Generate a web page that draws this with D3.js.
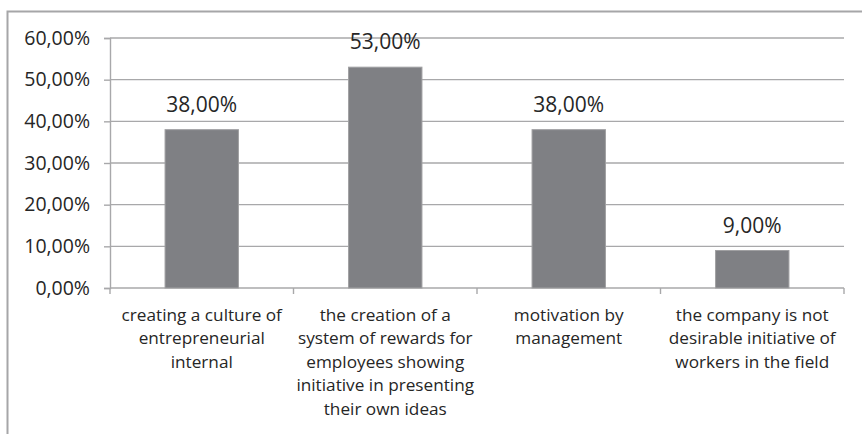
<!DOCTYPE html>
<html>
<head>
<meta charset="utf-8">
<script src="https://cdn.jsdelivr.net/npm/d3@7"></script>
<style>
  body { margin: 0; background: #fff; }
  svg { display: block; font-family: "Open Sans", sans-serif; }
</style>
</head>
<body>
<svg id="chart" width="862" height="434"></svg>
<script>
// chart data
const categories = [
  ["creating a culture of", "entrepreneurial", "internal"],
  ["the creation of a", "system of rewards for", "employees showing", "initiative in presenting", "their own ideas"],
  ["motivation by", "management"],
  ["the company is not", "desirable initiative of", "workers in the field"]
];
const values = [38, 53, 38, 9];
const yTicks = [0, 10, 20, 30, 40, 50, 60];

const fmt = v => d3.format(".2f")(v).replace(".", ",") + "%";

const svg = d3.select("#chart");
const margin = { top: 38, right: 18, bottom: 146, left: 110 };
const width = 862, height = 434;

// outer chart frame (only top and left visible in the crop)
svg.append("path")
   .attr("d", `M7.5,${height} V11.5 H${width}`)
   .attr("fill", "none")
   .attr("stroke", "#a6a6a8")
   .attr("stroke-width", 2);

const idx = d3.range(values.length);

const x = d3.scaleBand()
            .domain(idx)
            .range([margin.left, width - margin.right])
            .padding(0);

const xBar = d3.scaleBand()
               .domain(idx)
               .range([margin.left, width - margin.right])
               .paddingInner(0.6)
               .paddingOuter(0.3);

const y = d3.scaleLinear()
            .domain([0, 60])
            .range([height - margin.bottom, margin.top]);

// gridlines
svg.append("g")
   .selectAll("line")
   .data(yTicks.slice(1))
   .join("line")
   .attr("x1", margin.left)
   .attr("x2", width - margin.right)
   .attr("y1", d => y(d))
   .attr("y2", d => y(d))
   .attr("stroke", "#a8a8aa")
   .attr("stroke-width", 1.4);

// y axis
const yAxis = svg.append("g")
   .attr("transform", `translate(${margin.left},0)`)
   .call(d3.axisLeft(y).tickValues(yTicks).tickFormat(fmt).tickSize(6).tickPadding(14));
yAxis.select(".domain").attr("stroke", "#a8a8aa").attr("stroke-width", 1.4);
yAxis.selectAll(".tick line").attr("stroke", "#a8a8aa").attr("stroke-width", 1.4);
yAxis.selectAll("text")
     .style("font-size", "19.5px")
     .attr("fill", "#262626")
     .style("font-family", "'Open Sans', sans-serif");

// x axis line and boundary ticks
const x0 = height - margin.bottom;
svg.append("line")
   .attr("x1", margin.left).attr("x2", width - margin.right)
   .attr("y1", x0).attr("y2", x0)
   .attr("stroke", "#a8a8aa").attr("stroke-width", 1.4);
svg.append("g")
   .selectAll("line")
   .data(idx.concat([values.length]))
   .join("line")
   .attr("x1", d => d < values.length ? x(d) : x(d - 1) + x.bandwidth())
   .attr("x2", d => d < values.length ? x(d) : x(d - 1) + x.bandwidth())
   .attr("y1", x0)
   .attr("y2", x0 + 6)
   .attr("stroke", "#a8a8aa").attr("stroke-width", 1.4);

// bars
svg.append("g")
   .selectAll("rect")
   .data(values)
   .join("rect")
   .attr("x", (d, i) => xBar(i))
   .attr("y", d => y(d))
   .attr("width", xBar.bandwidth())
   .attr("height", d => y(0) - y(d))
   .attr("fill", "#7f8084")
   .attr("stroke", "#a0a0a2")
   .attr("stroke-width", 1);

// value labels
svg.append("g")
   .selectAll("text")
   .data(values)
   .join("text")
   .attr("x", (d, i) => x(i) + x.bandwidth() / 2)
   .attr("y", d => y(d) - 18)
   .attr("text-anchor", "middle")
   .attr("fill", "#262626")
   .style("font-size", "21px")
   .text(d => fmt(d));

// category labels
const cat = svg.append("g")
   .selectAll("text")
   .data(categories)
   .join("text")
   .attr("x", (d, i) => x(i) + x.bandwidth() / 2)
   .attr("y", x0 + 33)
   .attr("text-anchor", "middle")
   .attr("fill", "#262626")
   .style("font-size", "17.2px");

cat.selectAll("tspan")
   .data(d => d)
   .join("tspan")
   .attr("x", function () { return d3.select(this.parentNode).attr("x"); })
   .attr("dy", (d, i) => i === 0 ? 0 : 23.4)
   .text(d => d);
</script>
</body>
</html>
